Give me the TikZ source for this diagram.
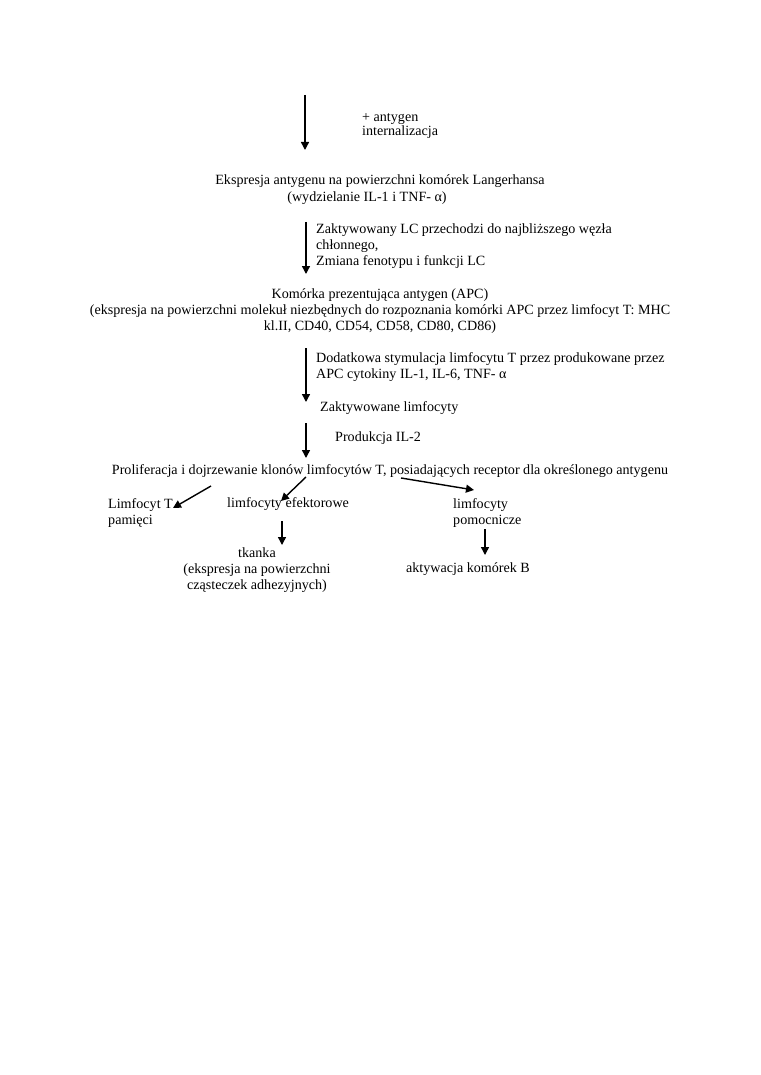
\documentclass[tikz,border=0pt]{standalone}
\usepackage{fontspec}
\setmainfont{Liberation Serif}
\usetikzlibrary{arrows.meta}
\tikzset{
  txt/.style={inner sep=0pt, font=\fontsize{14.1}{16.2}\selectfont},
  arr/.style={line width=1.4pt, -{Triangle[length=8pt,width=8pt]}},
}
\begin{document}
\begin{tikzpicture}[x=1pt,y=-1pt]
\useasboundingbox (0,0) rectangle (760,1075);
% arrow 1
\coordinate (a1s) at (305,95);
\coordinate (a1e) at (305,150);
\draw[arr] (a1s) -- (a1e);
\node[txt, anchor=west, align=left, font=\fontsize{14.1}{14.5}\selectfont] (l1) at (362,126) {+ antygen\\internalizacja};
\node[txt] (n1a) at (380,181) {Ekspresja antygenu na powierzchni komórek Langerhansa};
\node[txt] (n1b) at (367,198) {(wydzielanie IL-1 i TNF- α)};
% arrow 2
\coordinate (a2s) at (306,222);
\coordinate (a2e) at (306,274);
\draw[arr] (a2s) -- (a2e);
\node[txt, anchor=west, align=left] (l2) at (316,246) {Zaktywowany LC przechodzi do najbliższego węzła\\chłonnego,\\Zmiana fenotypu i funkcji LC};
\node[txt, align=center] (n2) at (380,311) {Komórka prezentująca antygen (APC)\\(ekspresja na powierzchni molekuł niezbędnych do rozpoznania komórki APC przez limfocyt T: MHC\\kl.II, CD40, CD54, CD58, CD80, CD86)};
% arrow 3
\coordinate (a3s) at (306,348);
\coordinate (a3e) at (306,402);
\draw[arr] (a3s) -- (a3e);
\node[txt, anchor=west, align=left] (l3) at (316,367) {Dodatkowa stymulacja limfocytu T przez produkowane przez\\APC cytokiny IL-1, IL-6, TNF- α};
\node[txt, anchor=west] (n3) at (320,408) {Zaktywowane limfocyty};
% arrow 4
\coordinate (a4s) at (306,423);
\coordinate (a4e) at (306,458);
\draw[arr] (a4s) -- (a4e);
\node[txt, anchor=west] (l4) at (335,438) {Produkcja IL-2};
\node[txt] (n4) at (390,471) {Proliferacja i dojrzewanie klonów limfocytów T, posiadających receptor dla określonego antygenu};
% branches
\node[txt, anchor=west, align=left] (m1) at (108,513) {Limfocyt T\\pamięci};
\node[txt, anchor=west] (m2) at (227,504) {limfocyty efektorowe};
\node[txt, anchor=west, align=left] (m3) at (453,513) {limfocyty\\pomocnicze};
\coordinate (b1s) at (211,486);
\coordinate (b1e) at (173,508);
\coordinate (b2s) at (306,477);
\coordinate (b2e) at (281,501);
\coordinate (b3s) at (401,478);
\coordinate (b3e) at (474,490);
\draw[arr] (b1s) -- (b1e);
\draw[arr] (b2s) -- (b2e);
\draw[arr] (b3s) -- (b3e);
% lower
\coordinate (c1s) at (282,521);
\coordinate (c1e) at (282,545);
\draw[arr] (c1s) -- (c1e);
\node[txt, align=center] (t1) at (257,570) {tkanka\\(ekspresja na powierzchni\\cząsteczek adhezyjnych)};
\coordinate (c2s) at (485,529);
\coordinate (c2e) at (485,555);
\draw[arr] (c2s) -- (c2e);
\node[txt] (t2) at (468,569) {aktywacja komórek B};
\end{tikzpicture}
\end{document}
